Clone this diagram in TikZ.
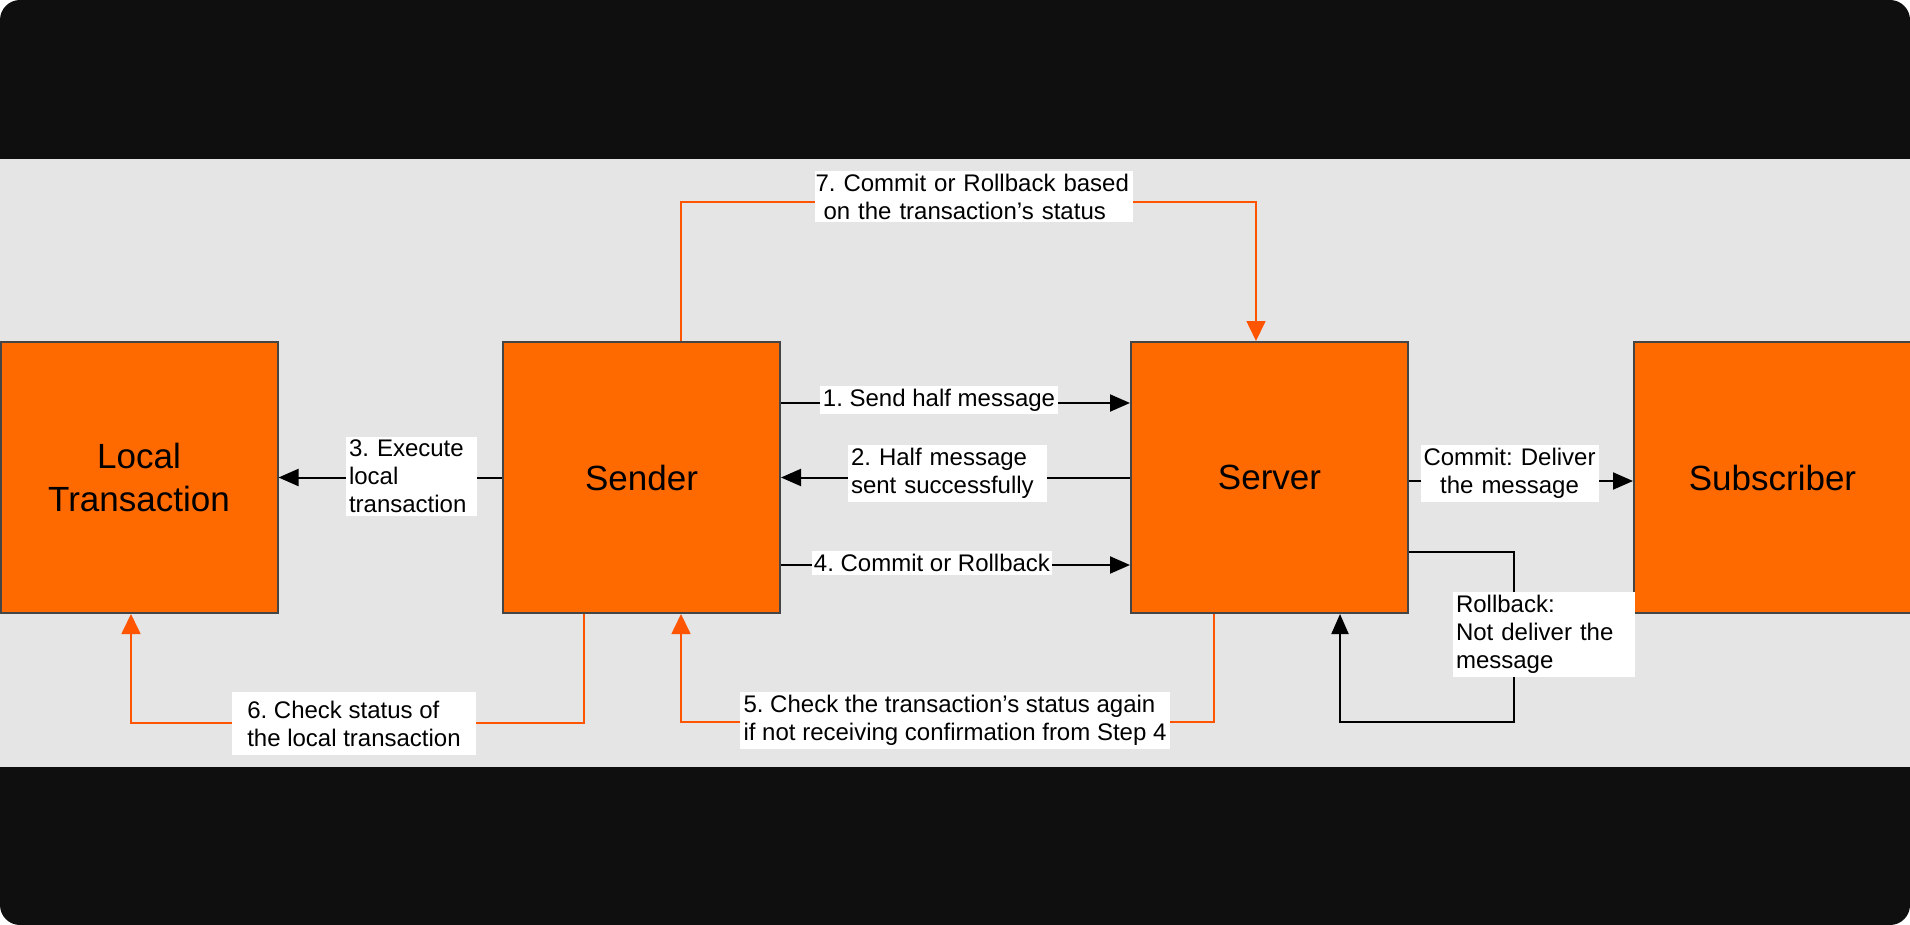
\documentclass[tikz,border=0pt]{standalone}
\usepackage{fontspec}
\setmainfont{Liberation Sans}
\usetikzlibrary{arrows.meta}
\definecolor{boxorange}{HTML}{FF6A00}
\definecolor{lineorange}{HTML}{FF5500}
\definecolor{bandgray}{HTML}{E5E5E5}
\definecolor{framedark}{HTML}{0F0F0F}
\definecolor{boxedge}{HTML}{454545}

\begin{document}
\frenchspacing
\begin{tikzpicture}[x=0.5pt,y=-0.5pt,
  party/.style={draw=boxedge,line width=1pt,fill=boxorange,minimum width=138.5pt,
    minimum height=135.5pt,inner sep=0pt,align=center,font=\fontsize{17.5}{21.5}\selectfont},
  lbl/.style={fill=white,inner sep=1.5pt,align=left,font=\fontsize{12}{14}\selectfont},
  flow/.style={line width=1pt,-{Triangle[length=10pt,width=8.5pt]}},
  poll/.style={lineorange,line width=0.85pt,-{Triangle[length=10pt,width=9.5pt]}}]
  \useasboundingbox (0,0) rectangle (1910,925);
  % frame: dark bands top and bottom, grey band in the middle
  \fill[white] (0,0) rectangle (1910,925);
  \fill[framedark,rounded corners=10pt] (0,0) rectangle (1910,925);
  \fill[bandgray] (0,159) rectangle (1910,767);

  \node[party] (local)  at (139,477.5)    {Local\\Transaction};
  \node[party] (sender) at (641.5,477.5)  {Sender};
  \node[party] (server) at (1269.5,477.5) {Server};
  \node[party] (sub)    at (1772.5,477.5) {Subscriber};

  % black: the normal flow
  \draw[flow] (sender.east |- 0,403) -- (server.west |- 0,403);
  \draw[flow] (server.west) -- (sender.east);
  \draw[flow] (sender.west) -- (local.east);
  \draw[flow] (sender.east |- 0,565) -- (server.west |- 0,565);
  \draw[flow] (server.east |- 0,481) -- (sub.west |- 0,481);
  \draw[flow] (server.east |- 0,552) -| (1514,722) -| (server.south -| 1340,0);

  % orange: the status check-back
  \draw[poll] (server.south -| 1214,0) |- (681,722) -- (sender.south -| 681,0);
  \draw[poll] (sender.south -| 584,0) |- (131,723) -- (local.south -| 131,0);
  \draw[poll] (sender.north -| 681,0) |- (1256,202) -- (server.north -| 1256,0);

  \node[lbl] (step1) at (939,400) {1. Send half message};
  \node[lbl,text width=96.5pt] (step2) at (947.5,473.5) {2. Half message\\sent successfully};
  \node[lbl,text width=62.5pt] (step3) at (411.5,476.5) {3. Execute\\local\\transaction};
  \node[lbl,inner xsep=1pt] (step4) at (932,563) {4. Commit or Rollback};
  \node[lbl,inner xsep=2pt] (step5) at (955,720.5)
    {5. Check the transaction’s status again\\if not receiving confirmation from Step 4};
  \node[lbl,inner xsep=7.5pt,inner ysep=4.5pt] (step6) at (354,723.5)
    {6. Check status of\\the local transaction};
  \node[lbl,inner xsep=0.5pt,text width=158pt] (step7) at (973.5,196.5)
    {7. Commit or Rollback based\\\ on the transaction’s status};
  \node[lbl,inner xsep=0.5pt,align=center,text width=88pt] (deliver) at (1509.5,473.5)
    {Commit: Deliver\\the message};
  \node[lbl,text width=88pt] (rollback) at (1544,634.5)
    {Rollback:\\Not deliver the\\message};
\end{tikzpicture}
\end{document}
